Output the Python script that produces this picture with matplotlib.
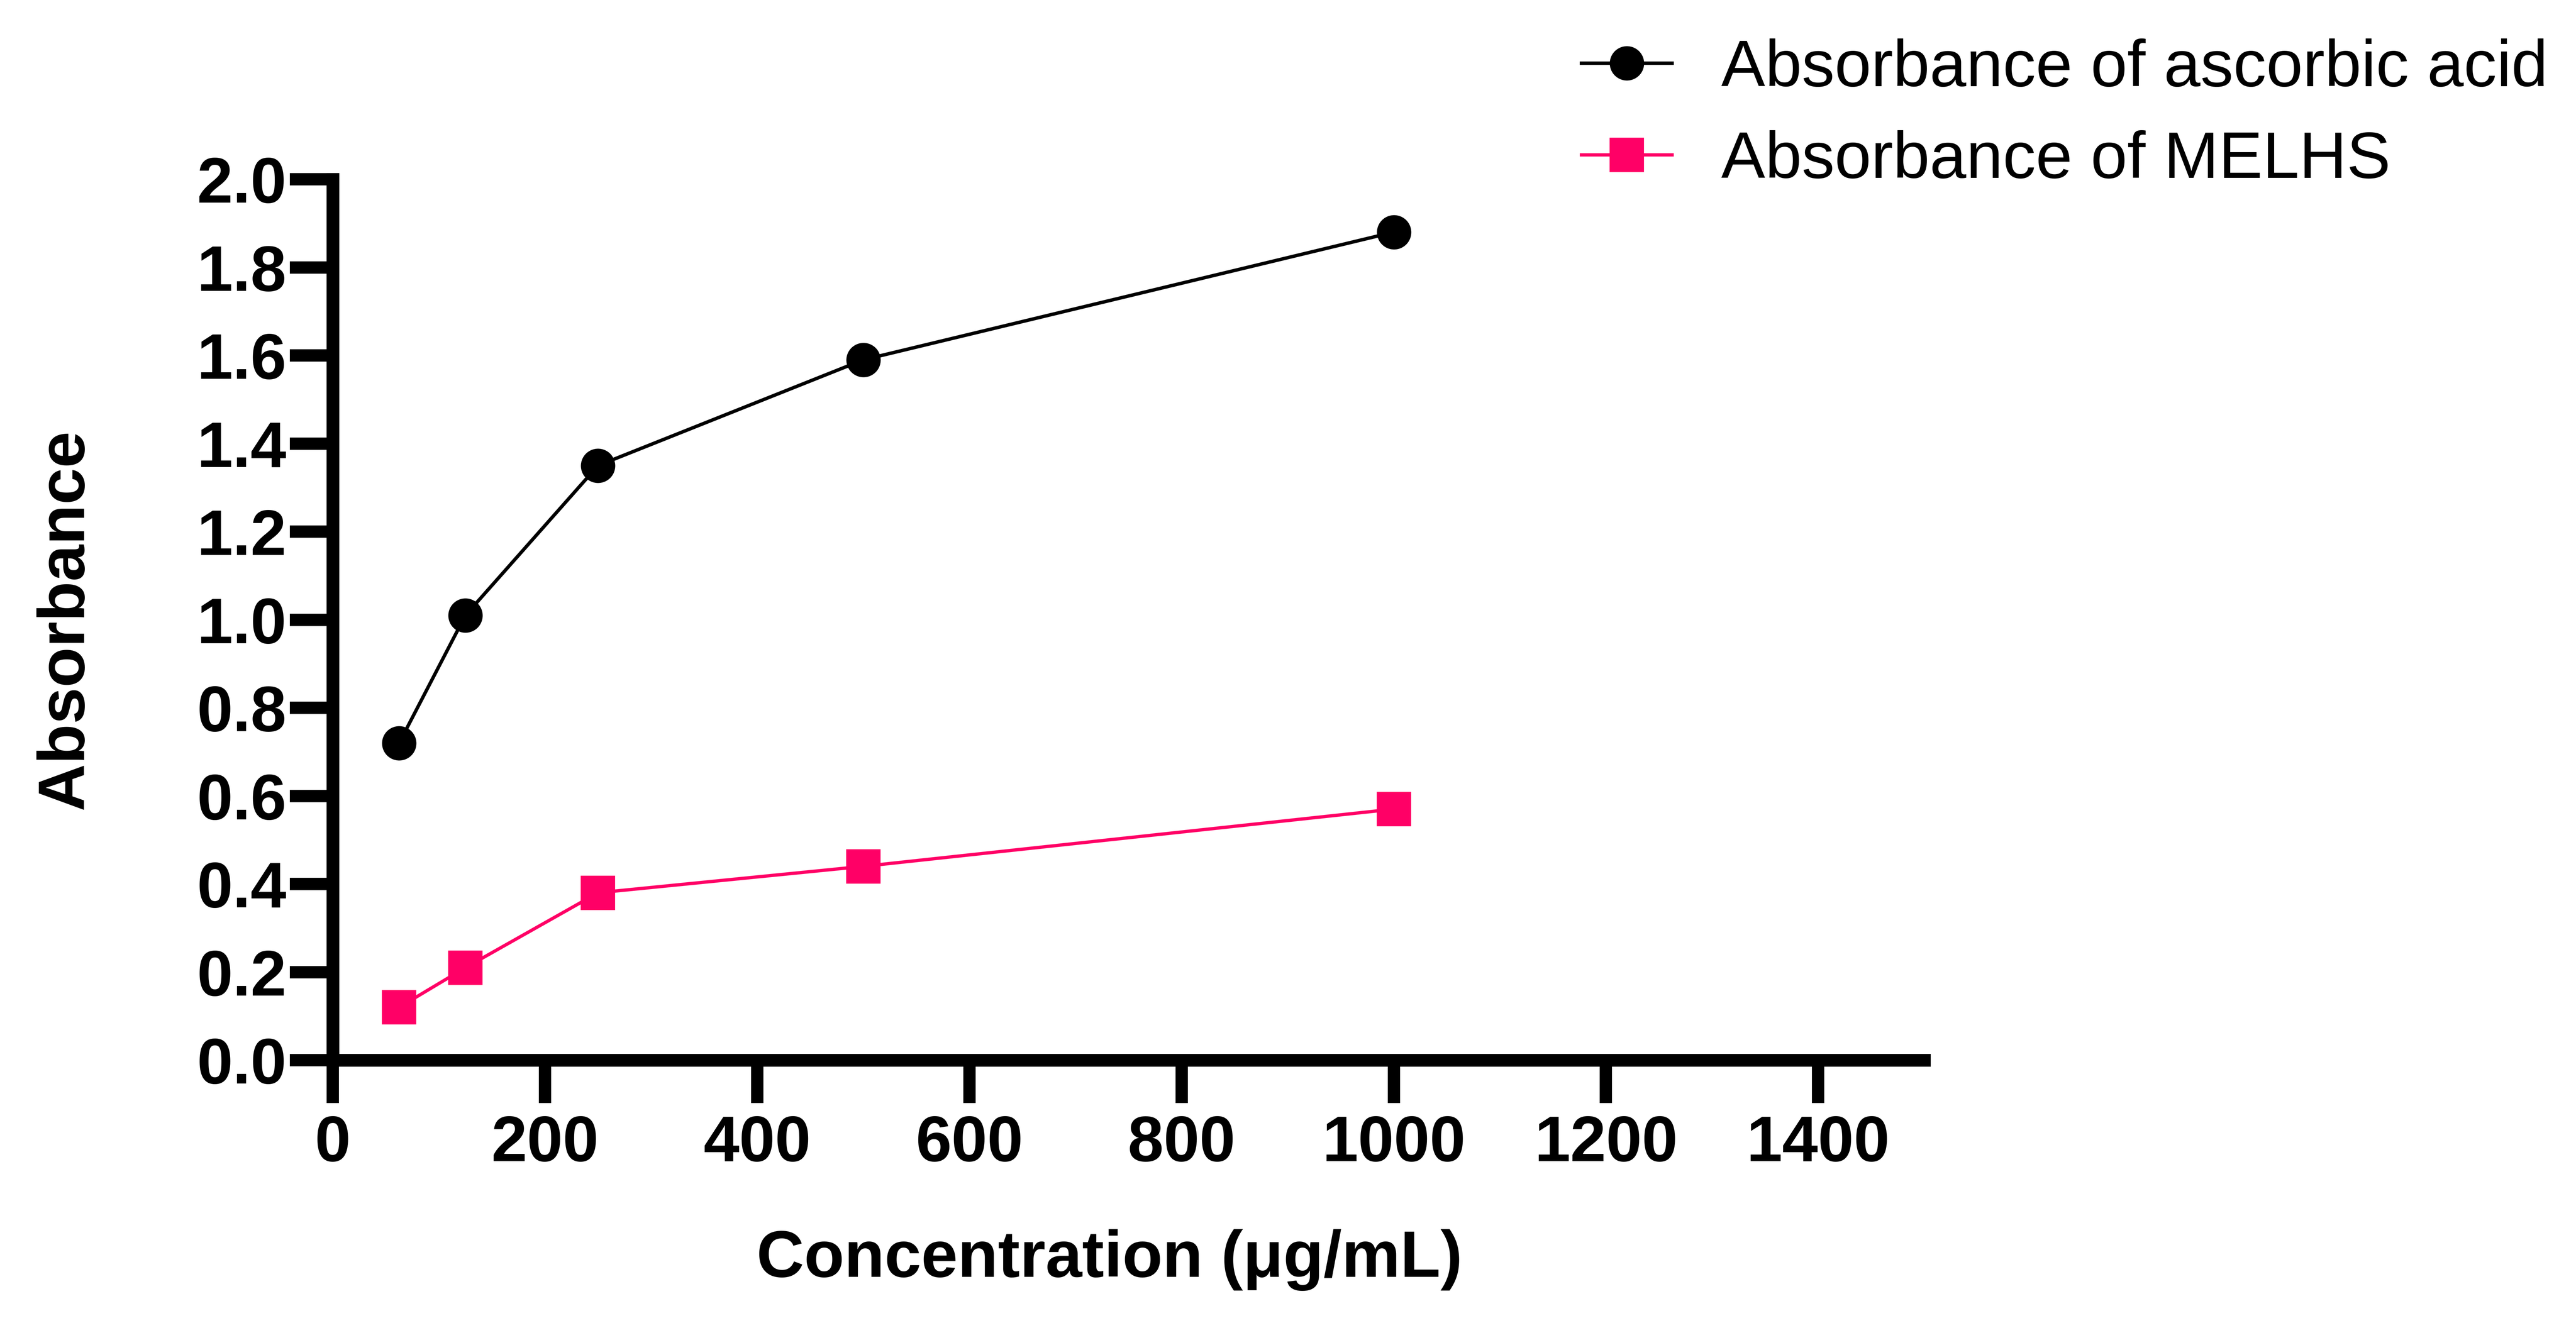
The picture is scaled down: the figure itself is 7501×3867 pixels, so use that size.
import matplotlib
matplotlib.use('Agg')
import matplotlib.pyplot as plt
from matplotlib.ticker import FormatStrFormatter

## Data ##
#-----------------------------------------------------------------------------------------------------------------------
concentration = [62.5, 125, 250, 500, 1000] # ug/mL
abs_ascorbic = [0.72, 1.01, 1.35, 1.59, 1.88] # absorbance of ascorbic acid
abs_melhs = [0.12, 0.21, 0.38, 0.44, 0.57] # absorbance of MELHS
x_ticks = [0, 200, 400, 600, 800, 1000, 1200, 1400]
y_ticks = [0.0, 0.2, 0.4, 0.6, 0.8, 1.0, 1.2, 1.4, 1.6, 1.8, 2.0]
labels = ['Absorbance of ascorbic acid', 'Absorbance of MELHS']

pink = '#FF0066'
plt.rcParams['font.family'] = ['Liberation Sans', 'DejaVu Sans']

## Figure ##
#-----------------------------------------------------------------------------------------------------------------------
fig = plt.figure(figsize=(7501/300, 3867/300), dpi=300)
ax = fig.add_axes([0.1292, 0.2017, 0.7470-0.1292, 0.8650-0.2017])

ax.plot(concentration, abs_ascorbic, color='black', lw=2.4, marker='o', ms=23, label=labels[0], clip_on=False)
ax.plot(concentration, abs_melhs, color=pink, lw=2.3, marker='s', ms=23, label=labels[1], clip_on=False)

ax.set_xlim(0, 1500)
ax.set_ylim(0, 2.0)
ax.set_xticks(x_ticks)
ax.set_yticks(y_ticks)
ax.yaxis.set_major_formatter(FormatStrFormatter('%.1f'))

# Prism-like axes
for side in ['top', 'right']:
    ax.spines[side].set_visible(False)
for side in ['left', 'bottom']:
    ax.spines[side].set_linewidth(8.9)
    ax.spines[side].set_capstyle('projecting')
ax.tick_params(axis='both', direction='out', length=30, width=8.6, labelsize=45)
ax.tick_params(axis='y', pad=2.4)
ax.tick_params(axis='x', pad=8)
for lab in ax.get_xticklabels() + ax.get_yticklabels():
    lab.set_fontweight('bold')

ax.set_xlabel('Concentration (μg/mL)', fontsize=46, fontweight='bold', labelpad=38, x=0.488)
ax.set_ylabel('Absorbance', fontsize=46, fontweight='bold', labelpad=70)

fig.legend(loc='upper left', bbox_to_anchor=(0.6139, 0.971), frameon=False, fontsize=46,
           borderpad=0, borderaxespad=0, handlelength=1.38, handletextpad=0.745,
           labelspacing=0.46, numpoints=1)

fig.savefig('out.png', dpi=300)
